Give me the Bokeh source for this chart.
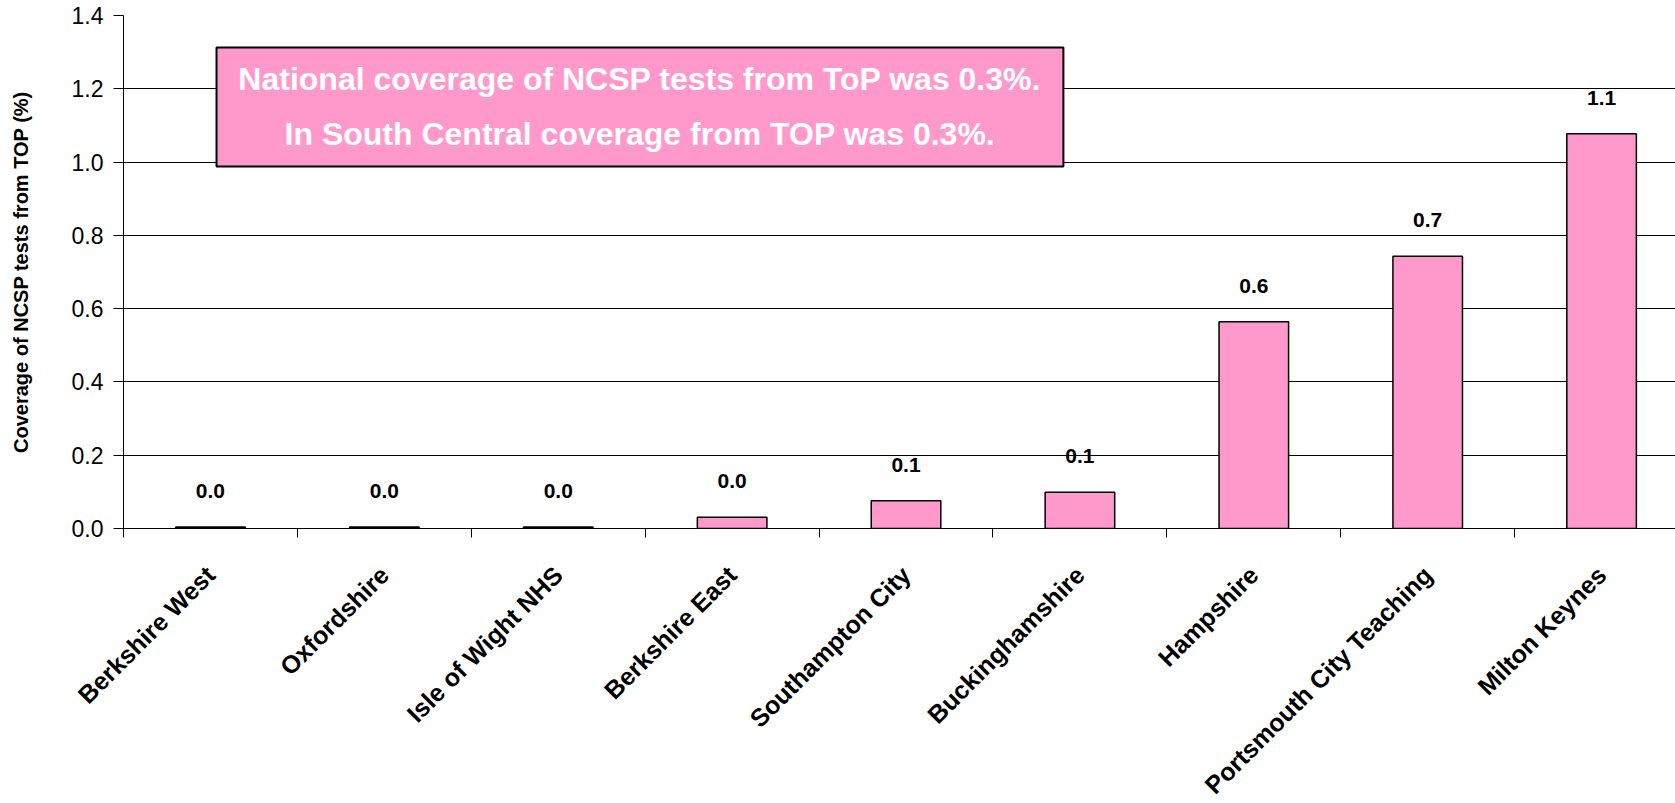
import math
from bokeh.plotting import figure
from bokeh.layouts import column
from bokeh.models import (ColumnDataSource, Range1d, FixedTicker, BoxAnnotation, Label,
                          NumeralTickFormatter)
from bokeh.embed import file_html
from bokeh.resources import INLINE
from bokeh.core.properties import value

categories = ["Berkshire West", "Oxfordshire", "Isle of Wight NHS", "Berkshire East",
              "Southampton City", "Buckinghamshire", "Hampshire",
              "Portsmouth City Teaching", "Milton Keynes"]
coverage = [0.004, 0.004, 0.004, 0.031, 0.076, 0.099, 0.564, 0.743, 1.077]
y_ticks = [0.0, 0.2, 0.4, 0.6, 0.8, 1.0, 1.2, 1.4]
y_title = "Coverage of NCSP tests from TOP (%)"
note_lines = ["National coverage of NCSP tests from ToP was 0.3%.",
              "In South Central coverage from TOP was 0.3%."]

FONT = "Liberation Sans"
PINK = "#FF99CC"

W = 1675
FRAME_LEFT = 123
X_END = 8.925
TOP_H = 558
BOT_H = 803 - TOP_H

centers = [i + 0.5 for i in range(len(categories))]
bounds = list(range(len(categories) + 1))
labels = [f"{v:.1f}" for v in coverage]

src = ColumnDataSource(dict(x=centers, top=coverage, label=labels))
cat_src = ColumnDataSource(dict(x=centers, base=[1.0] * len(categories), name=categories))

p = figure(width=W, height=TOP_H, output_backend="svg", toolbar_location=None,
           x_range=Range1d(0, X_END), y_range=Range1d(0, 1.4),
           min_border_left=FRAME_LEFT, min_border_top=15, min_border_bottom=30,
           min_border_right=0)
p.frame_align = False
p.outline_line_color = None
p.background_fill_color = "white"

# grid
p.xgrid.grid_line_color = None
p.ygrid.ticker = FixedTicker(ticks=y_ticks)
p.ygrid.grid_line_color = "#000000"
p.ygrid.grid_line_width = 1

# y axis
ya = p.yaxis[0]
ya.ticker = FixedTicker(ticks=y_ticks)
ya.formatter = NumeralTickFormatter(format="0.0")
ya.axis_line_color = "black"
ya.major_tick_line_color = "black"
ya.major_tick_out = 10
ya.major_tick_in = 0
ya.minor_tick_line_color = None
ya.major_label_text_font = FONT
ya.major_label_text_font_size = "23px"
ya.major_label_text_color = "black"
ya.major_label_standoff = 10
ya.axis_label = y_title
ya.axis_label_text_font = FONT
ya.axis_label_text_font_style = "bold"
ya.axis_label_text_font_size = "20px"
ya.axis_label_text_color = "black"
ya.axis_label_standoff = 37

# x axis: boundary ticks only; category names drawn in the strip below
xa = p.xaxis[0]
xa.ticker = FixedTicker(ticks=centers, minor_ticks=bounds)
xa.major_label_overrides = {c: "" for c in centers}
xa.major_label_text_font_size = "1px"
xa.axis_line_color = "black"
xa.major_tick_out = 0
xa.major_tick_in = 0
xa.major_tick_line_color = None
xa.minor_tick_out = 9
xa.minor_tick_in = 0
xa.minor_tick_line_color = "black"

# bars
p.vbar(x="x", top="top", width=0.4, source=src, fill_color=PINK,
       line_color="black", line_width=1.5)

# value labels
p.text(x="x", y="top", text="label", source=src, text_align="center",
       text_baseline="middle", y_offset=-36, text_font=value(FONT),
       text_font_style="bold", text_font_size="21px", text_color="black")

# note box
box = BoxAnnotation(left=0.535, right=5.405, bottom=0.988, top=1.3127,
                    fill_color=PINK, fill_alpha=1.0, line_color="black",
                    line_alpha=1.0, line_width=2)
p.add_layout(box)
for txt, yy in zip(note_lines, [1.2254, 1.0753]):
    p.add_layout(Label(x=2.97, y=yy, text=txt, text_align="center",
                       text_baseline="middle", text_color="white",
                       text_font=FONT, text_font_style="bold",
                       text_font_size="32px"))

# strip with the rotated category names, same x scale as the chart
x2_start = -FRAME_LEFT * X_END / (W - FRAME_LEFT)
p2 = figure(width=W, height=BOT_H, output_backend="svg", toolbar_location=None,
            x_range=Range1d(x2_start, X_END), y_range=Range1d(0, 1),
            x_axis_location=None, y_axis_location=None,
            min_border_left=0, min_border_right=0, min_border_top=0,
            min_border_bottom=0)
p2.frame_align = False
p2.outline_line_color = None
p2.grid.visible = False
p2.text(x="x", y="base", text="name", source=cat_src, angle=math.pi / 4,
        text_align="right", text_baseline="middle", y_offset=12,
        text_font=value(FONT), text_font_style="bold", text_font_size="25px",
        text_color="black")

layout = column(p, p2, spacing=0)
open("out.html", "w").write(file_html(layout, INLINE))
